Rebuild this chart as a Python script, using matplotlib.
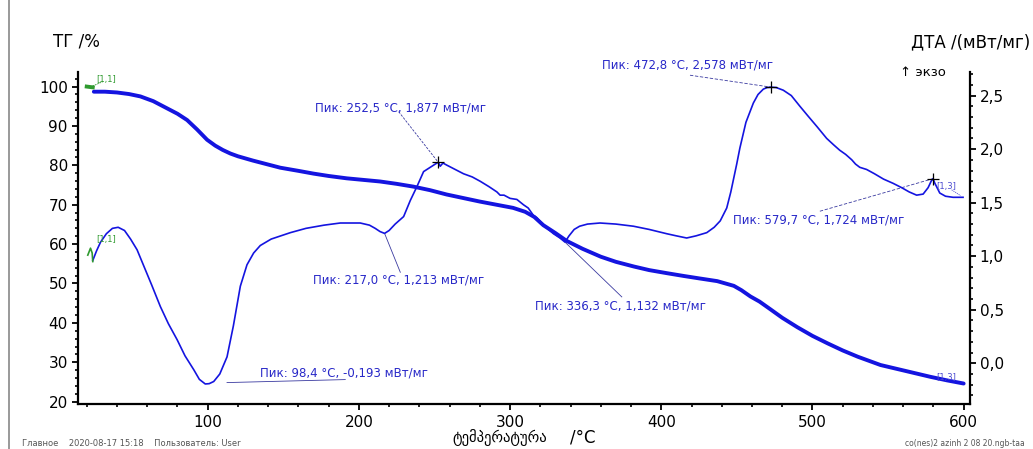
import numpy as np
import matplotlib.pyplot as plt
from matplotlib.lines import Line2D
from matplotlib.ticker import MultipleLocator, FuncFormatter

plt.rcParams['font.family'] = ['DejaVu Sans', 'Noto Sans']

# ТГ (mass, %) vs temperature
tg_t = [24.7, 32, 40, 48, 55.5, 64, 73, 80, 86.4, 93, 99.6, 105, 110, 115, 120,
        130, 140, 148, 160, 170, 180, 192, 203, 214, 225, 236, 247, 258, 269,
        280, 291, 302, 310, 316, 322, 330, 337.5, 348, 360, 370, 382, 392, 404,
        415, 425, 437, 448, 453, 459, 465, 472, 480, 490, 500, 510, 520, 530,
        545, 556, 567, 578, 589, 600]
tg_v = [98.7, 98.7, 98.5, 98.1, 97.5, 96.3, 94.5, 93.1, 91.5, 89.1, 86.5, 85.0,
        83.9, 83.0, 82.3, 81.2, 80.2, 79.4, 78.6, 77.9, 77.3, 76.7, 76.3, 75.9,
        75.3, 74.6, 73.7, 72.6, 71.7, 70.8, 70.0, 69.2, 68.2, 66.9, 64.8, 62.8,
        60.8, 58.8, 56.8, 55.5, 54.3, 53.4, 52.6, 51.9, 51.3, 50.6, 49.4, 48.3,
        46.7, 45.4, 43.5, 41.3, 38.9, 36.7, 34.8, 33.0, 31.4, 29.3, 28.3, 27.3,
        26.3, 25.4, 24.6]
tg_start_t = [20.0, 24.0]
tg_start_v = [100.0, 99.8]

# ДТА (mW/mg) vs temperature
dta_t = [24.0, 26.5, 29.1, 33, 37, 40.8, 45, 49, 53.3, 58, 63, 68.7, 74, 79.8,
         85, 90.8, 94.5, 98.4, 101, 104, 108, 112.8, 117, 121.6, 126, 130.4,
         134.8, 142, 154.7, 165, 177, 187.7, 200.9, 207, 210.8, 214, 217.0, 220,
         224, 229.6, 234, 238.4, 242.8, 247.2, 250.5, 252.5, 253.8, 255.6, 258.2,
         263.7, 269.2, 275, 280.2, 286, 291.3, 293.4, 296, 300, 304.5, 308.9,
         312, 315.5, 317.7, 322.1, 328.7, 333, 336.3, 339, 342.4, 346, 351.2,
         359.5, 370, 381.6, 392, 403.6, 410, 416.8, 423, 430.1, 435, 439, 443.3,
         446, 449.9, 452, 456, 460.9, 464, 467.5, 470, 472.8, 476, 480.7, 486,
         491.7, 497, 503, 509.4, 514, 518, 522, 526, 528.5, 531.3, 535.8, 541,
         547, 553.4, 559, 564, 568.9, 573.2, 576.5, 578.5, 579.7, 581, 584.2,
         588, 593, 599.6]
dta_v = [0.96, 1.05, 1.13, 1.21, 1.26, 1.27, 1.24, 1.16, 1.06, 0.90, 0.73, 0.53,
         0.37, 0.22, 0.07, -0.06, -0.15, -0.193, -0.19, -0.17, -0.10, 0.06, 0.35,
         0.72, 0.92, 1.03, 1.10, 1.16, 1.22, 1.26, 1.29, 1.31, 1.31, 1.29, 1.26,
         1.23, 1.213, 1.24, 1.30, 1.37, 1.52, 1.65, 1.79, 1.83, 1.86, 1.877, 1.84,
         1.87, 1.85, 1.81, 1.77, 1.74, 1.70, 1.65, 1.60, 1.57, 1.57, 1.54, 1.53,
         1.48, 1.45, 1.38, 1.36, 1.29, 1.21, 1.17, 1.132, 1.19, 1.25, 1.28, 1.30,
         1.31, 1.30, 1.28, 1.25, 1.21, 1.19, 1.17, 1.19, 1.22, 1.27, 1.33, 1.45,
         1.60, 1.86, 2.01, 2.25, 2.43, 2.51, 2.56, 2.575, 2.578, 2.575, 2.55, 2.50,
         2.40, 2.31, 2.21, 2.10, 2.04, 1.99, 1.95, 1.90, 1.86, 1.83, 1.81, 1.77,
         1.72, 1.68, 1.64, 1.60, 1.57, 1.58, 1.64, 1.70, 1.724, 1.68, 1.59, 1.56,
         1.55, 1.55]
dta_start_t = [20.7, 22.5, 23.6, 24.0]
dta_start_v = [1.01, 1.075, 1.03, 0.95]

# peaks found on the ДТА curve
peak_t = [98.4, 217.0, 252.5, 336.3, 472.8, 579.7]
peak_v = [-0.193, 1.213, 1.877, 1.132, 2.578, 1.724]
peak_marked = [False, False, True, False, True, True]
# where the label sits and where its leader line starts
label_xy = [(134.9, -0.093), (169.8, 0.78), (171.2, 2.38), (316.6, 0.535),
            (360.7, 2.79), (447.7, 1.34)]
leader_xy = [(191, -0.152), (227.4, 0.85), (226.3, 2.35), (373.9, 0.62),
             (419, 2.69), (504.9, 1.42)]
leader_style = ['-', '-', (0, (3, 1.5)), '-', (0, (4, 2)), (0, (4, 2))]

blue = '#1414e0'
green = '#2f9a2f'

W, H = 1033, 449
fig = plt.figure(figsize=(W / 100, H / 100), dpi=100)
ax = fig.add_axes([77.5 / W, 1 - 404 / H, (970 - 77.5) / W, (404 - 72) / H])
ax2 = ax.twinx()

ax.plot(tg_t, tg_v, color=blue, lw=2.8, solid_capstyle='round', zorder=3)
ax.plot(tg_start_t, tg_start_v, color=green, lw=2.8, zorder=3)
ax2.plot(dta_t, dta_v, color=blue, lw=1.2, zorder=3)
ax2.plot(dta_start_t, dta_start_v, color=green, lw=1.2, zorder=3)

ax.set_xlim(13.9, 604.2)
ax.set_ylim(19.4, 103.7)
ax2.set_ylim(-0.38, 2.72)

for s in ['top', 'right']:
    ax.spines[s].set_visible(False)
for s in ['top', 'left', 'bottom']:
    ax2.spines[s].set_visible(False)
for a, s in [(ax, 'left'), (ax, 'bottom'), (ax2, 'right')]:
    a.spines[s].set_linewidth(1.6)

ax.xaxis.set_major_locator(MultipleLocator(100))
ax.xaxis.set_minor_locator(MultipleLocator(20))
ax.yaxis.set_major_locator(MultipleLocator(10))
ax.yaxis.set_minor_locator(MultipleLocator(2))
ax2.yaxis.set_major_locator(MultipleLocator(0.5))
ax2.yaxis.set_minor_locator(MultipleLocator(0.1))
ax2.yaxis.set_major_formatter(
    FuncFormatter(lambda v, p: f'{abs(v) if abs(v) < 1e-9 else v:.1f}'.replace('.', ',')))

ax.tick_params(which='major', direction='out', length=4, width=1.3, labelsize=11, pad=3)
ax.tick_params(which='minor', direction='out', length=2.5, width=1.2)
ax.tick_params(axis='x', which='major', pad=4)
ax2.tick_params(which='major', direction='out', length=4, width=1.3, labelsize=11, pad=3)
ax2.tick_params(which='minor', direction='out', length=2.5, width=1.2)

# peak labels
for i in range(len(peak_t)):
    t, v = peak_t[i], peak_v[i]
    txt = f'Пик: {t:.1f} °C, {v:.3f} мВт/мг'.replace('.', ',')
    lx, ly = label_xy[i]
    ax2.text(lx, ly, txt, color='#2828c8', fontsize=8.5, ha='left', va='center',
             clip_on=False, zorder=4)
    sx, sy = leader_xy[i]
    ex, ey = (t + 14.4, v + 0.013) if i == 0 else (t, v)
    ax2.plot([sx, ex], [sy, ey], color='#3a3aa0', lw=0.6, ls=leader_style[i],
             zorder=2, clip_on=False)
    if peak_marked[i]:
        ax2.plot([t], [v], marker='+', ms=8, mew=0.9, color='k', zorder=5)

# segment markers
ax.text(26, 101.9, '[1,1]', color=green, fontsize=6, ha='left', va='center')
ax.plot([31, 23], [101.3, 100.0], color=green, lw=0.6, ls=(0, (2, 1)))
ax2.text(26.5, 1.16, '[1,1]', color=green, fontsize=6, ha='left', va='center')
ax2.text(582, 1.65, '[1,3]', color='#4a4ad0', fontsize=6, ha='left', va='center')
ax2.plot([592, 598], [1.62, 1.565], color='#4a4ad0', lw=0.5, ls=(0, (2, 1)))
ax.text(582, 26.1, '[1,3]', color='#4a4ad0', fontsize=6, ha='left', va='center')
ax.plot([592, 598], [25.4, 24.8], color='#4a4ad0', lw=0.5, ls=(0, (2, 1)))

# axis titles and captions
fig.text(53 / W, 1 - 42 / H, 'ТГ /%', fontsize=12, ha='left', va='center')
fig.text(1030 / W, 1 - 42 / H, 'ДТА /(мВт/мг)', fontsize=12, ha='right', va='center')
fig.text(900 / W, 1 - 72 / H, '↑ экзо', fontsize=9.5, ha='left', va='center')
fig.text(452 / W, 1 - 437 / H, 'ტემპერატურა', fontsize=10.5, ha='left', va='center')
fig.text(570 / W, 1 - 437 / H, '/°C', fontsize=12, ha='left', va='center')
fig.text(22 / W, 1 - 443 / H, 'Главное    2020-08-17 15:18    Пользователь: User',
         fontsize=6, color='#555555', ha='left', va='center')
fig.text(1025 / W, 1 - 443 / H, 'co(nes)2 azinh 2 08 20.ngb-taa',
         fontsize=5.5, color='#555555', ha='right', va='center')
fig.add_artist(Line2D([8.5 / W, 8.5 / W], [0, 1], color='#888888', lw=1.2))

fig.savefig('out.png', dpi=100)
